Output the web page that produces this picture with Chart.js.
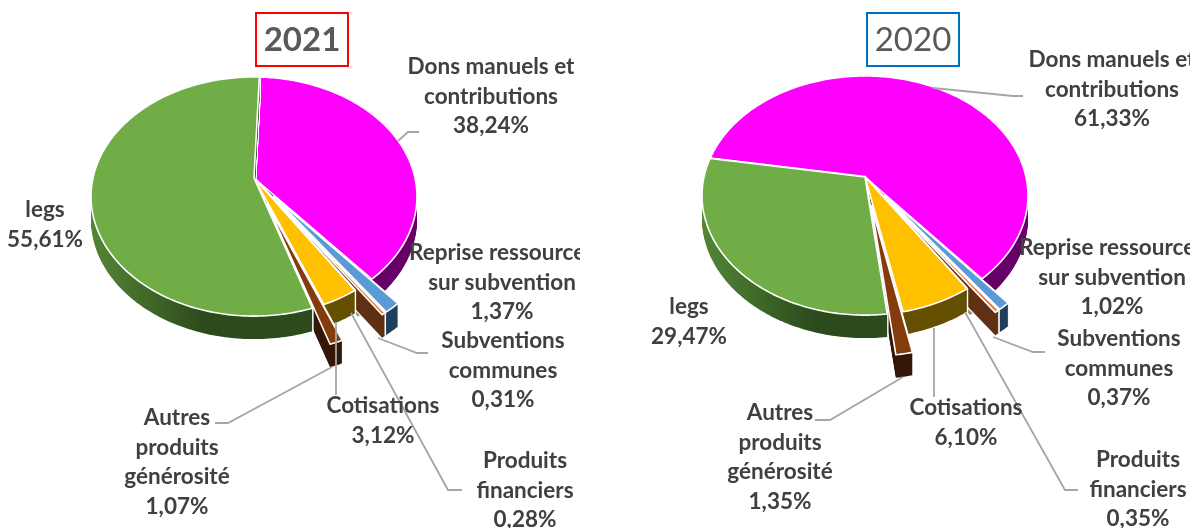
<!DOCTYPE html>
<html>
<head>
<meta charset="utf-8">
<title>Ressources 2021 / 2020</title>
<script src="https://cdn.jsdelivr.net/npm/chart.js"></script>
<style>
    body { margin: 0; background: #fff; }
    canvas { position: absolute; top: 0; }
</style>
</head>
<body>
<canvas id="chart2021" style="left:0"></canvas>
<canvas id="chart2020" style="left:596px"></canvas>
<script>
const categories = [
    ['Dons manuels et', 'contributions'],
    ['Reprise ressources', 'sur subvention'],
    ['Subventions', 'communes'],
    ['Produits', 'financiers'],
    ['Cotisations'],
    ['Autres', 'produits', 'générosité'],
    ['legs']
];
const values2021 = [38.24, 1.37, 0.31, 0.28, 3.12, 1.07, 55.61];
const values2020 = [61.33, 1.02, 0.37, 0.35, 6.10, 1.35, 29.47];

const topColors = ['#ff00ff', '#5b9bd5', '#ed7d31', '#a5a5a5', '#ffc000', '#843c0c', '#70ad47'];
const sideColors = ['#660066', '#1f3f5c', '#5f3013', '#8a8a8a', '#665000', '#351808', '#2c4a1c'];
// back to front
const drawOrder = [0, 1, 3, 2, 4, 5, 6];

const TILT = 116.7 / 161;
const PERSPECTIVE = 0.155;
const DEPTH = 23;
const LINE_HEIGHT = 29.6;

function project(arc, x, y) {
    const w = 1 - PERSPECTIVE * y;
    return {
        x: arc.x + arc.outerRadius * x / w,
        y: arc.y + arc.outerRadius * TILT * y / w
    };
}

function wedgePoints(arc) {
    const mid = (arc.startAngle + arc.endAngle) / 2;
    const off = arc.options.offset / arc.outerRadius;
    const ox = off * Math.cos(mid);
    const oy = off * Math.sin(mid);
    const pts = [project(arc, ox, oy)];
    const steps = Math.max(2, Math.ceil((arc.endAngle - arc.startAngle) * 60));
    for (let i = 0; i <= steps; i++) {
        const a = arc.startAngle + (arc.endAngle - arc.startAngle) * i / steps;
        pts.push(project(arc, ox + Math.cos(a), oy + Math.sin(a)));
    }
    return pts;
}

function tracePolygon(ctx, pts, dy = 0) {
    ctx.beginPath();
    pts.forEach((p, i) => i ? ctx.lineTo(p.x, p.y + dy) : ctx.moveTo(p.x, p.y + dy));
    ctx.closePath();
}

// the side of a slice is its top polygon swept down by DEPTH
function drawWalls(ctx, pts, fill) {
    ctx.lineJoin = 'round';
    ctx.strokeStyle = '#fff';
    ctx.lineWidth = 2.4;
    for (let d = DEPTH; d >= 0; d--) {
        tracePolygon(ctx, pts, d);
        ctx.stroke();
    }
    ctx.fillStyle = fill;
    for (let d = DEPTH; d >= 0; d--) {
        tracePolygon(ctx, pts, d);
        ctx.fill();
    }
}

const tiltedPie = {
    id: 'tiltedPie',
    beforeDatasetsDraw(chart) {
        const ctx = chart.ctx;
        const arcs = chart.getDatasetMeta(0).data;
        ctx.save();
        for (const i of drawOrder) {
            const arc = arcs[i];
            const pts = wedgePoints(arc);
            let side = sideColors[i];
            if (i === 6) {
                side = ctx.createLinearGradient(arc.x - arc.outerRadius, 0, arc.x + 10, 0);
                side.addColorStop(0, '#528535');
                side.addColorStop(0.65, '#2c4a1c');
                side.addColorStop(1, '#2c4a1c');
            }
            drawWalls(ctx, pts, side);
            tracePolygon(ctx, pts);
            ctx.fillStyle = arc.options.backgroundColor;
            ctx.fill();
            ctx.strokeStyle = '#fff';
            ctx.lineWidth = 1.6;
            ctx.stroke();
        }
        ctx.restore();
        return false;
    },
    afterDraw(chart, args, opts) {
        const ctx = chart.ctx;
        ctx.save();
        ctx.translate(-opts.left, 0);

        ctx.strokeStyle = '#a6a6a6';
        ctx.lineWidth = 1.8;
        for (const line of opts.leaders) {
            ctx.beginPath();
            line.forEach((p, i) => i ? ctx.lineTo(p[0], p[1]) : ctx.moveTo(p[0], p[1]));
            ctx.stroke();
        }

        ctx.textAlign = 'center';
        ctx.textBaseline = 'middle';
        ctx.fillStyle = '#404040';
        ctx.font = 'bold 22.5px Lato';
        const values = chart.data.datasets[0].data;
        chart.data.labels.forEach((lines, i) => {
            const pos = opts.labelPos[i];
            const value = values[i].toFixed(2).replace('.', ',') + '%';
            [...lines, value].forEach((text, n) => {
                ctx.fillText(text, pos[0], pos[1] + 1 + n * LINE_HEIGHT);
            });
        });

        const box = opts.titleBox;
        ctx.strokeStyle = opts.titleColor;
        ctx.lineWidth = 2;
        ctx.strokeRect(box[0], box[1], box[2] - box[0], box[3] - box[1]);
        ctx.fillStyle = '#595959';
        ctx.font = opts.titleWeight + ' 33px Lato';
        ctx.fillText(chart.data.datasets[0].label, (box[0] + box[2]) / 2, (box[1] + box[3]) / 2 + 1);
        ctx.restore();
    }
};

function drawChart(id, cfg) {
    const canvas = document.getElementById(id);
    canvas.width = cfg.width;
    canvas.height = 528;
    const cx = cfg.apex[0] - cfg.left;
    const cy = cfg.apex[1];
    new Chart(canvas, {
        type: 'pie',
        data: {
            labels: categories,
            datasets: [{
                label: cfg.title,
                data: cfg.values,
                backgroundColor: topColors,
                borderWidth: 0,
                offset: cfg.explode
            }]
        },
        plugins: [tiltedPie],
        options: {
            responsive: false,
            animation: false,
            rotation: cfg.rotation,
            radius: 161,
            layout: {
                padding: {
                    left: Math.max(0, 2 * cx - cfg.width),
                    right: Math.max(0, cfg.width - 2 * cx),
                    top: Math.max(0, 2 * cy - 528),
                    bottom: Math.max(0, 528 - 2 * cy)
                }
            },
            plugins: {
                legend: { display: false },
                tooltip: { enabled: false },
                tiltedPie: {
                    left: cfg.left,
                    leaders: cfg.leaders,
                    labelPos: cfg.labelPos,
                    titleBox: cfg.titleBox,
                    titleColor: cfg.titleColor,
                    titleWeight: cfg.titleWeight
                }
            }
        }
    });
}

drawChart('chart2021', {
    title: '2021',
    values: values2021,
    left: 0,
    width: 580,
    apex: [254, 178],
    rotation: 2.2,
    explode: [0, 32, 32, 4, 0, 37, 0],
    titleBox: [256, 13, 348, 66],
    titleColor: '#ff0000',
    titleWeight: 'bold',
    labelPos: [[491, 66], [502, 252], [503, 340], [525, 460], [383, 405], [177, 417], [45, 209]],
    leaders: [
        [[398, 141], [408, 132], [419, 132]],
        [[378, 338], [417, 353], [428, 353]],
        [[351, 313], [448, 490], [462, 490]],
        [[336, 322], [336, 395]],
        [[332, 367], [228, 423], [215, 423]]
    ]
});

drawChart('chart2020', {
    title: '2020',
    values: values2020,
    left: 596,
    width: 594,
    apex: [865, 177],
    rotation: -80.6,
    explode: [0, 32, 32, 4, 0, 39, 0],
    titleBox: [867, 13, 959, 66],
    titleColor: '#0070c0',
    titleWeight: 'normal',
    labelPos: [[1112, 59], [1112, 247], [1119, 338], [1138, 459], [966, 407], [780, 412], [689, 306]],
    leaders: [
        [[933, 88], [1013, 96], [1023, 96]],
        [[993, 337], [1033, 352], [1045, 352]],
        [[965, 312], [1065, 490], [1078, 490]],
        [[934, 328], [934, 397]],
        [[903, 377], [830, 420], [815, 420]]
    ]
});
</script>
</body>
</html>
